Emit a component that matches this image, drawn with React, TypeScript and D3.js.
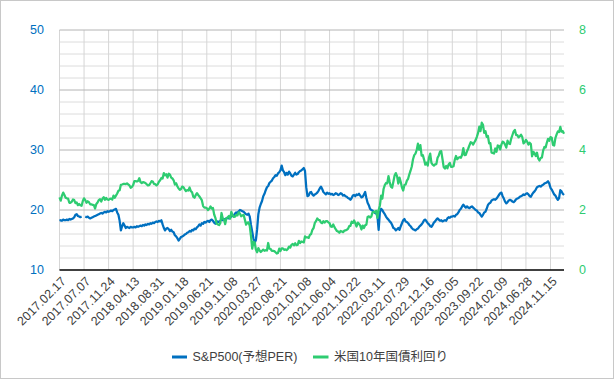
import React from "react";
import * as d3 from "d3";

// Category labels (every 20th weekly point)
const xLabels = [
  "2017.02.17", "2017.07.07", "2017.11.24", "2018.04.13", "2018.08.31", "2019.01.18",
  "2019.06.21", "2019.11.08", "2020.03.27", "2020.08.21", "2021.01.08", "2021.06.04",
  "2021.10.22", "2022.03.11", "2022.07.29", "2022.12.16", "2023.05.05", "2023.09.22",
  "2024.02.09", "2024.06.28", "2024.11.15",
];
const labelStep = 20;

const leftTicks = [10, 20, 30, 40, 50];
const rightTicks = [0, 2, 4, 6, 8];
const leftMinor = [12, 14, 16, 18, 22, 24, 26, 28, 32, 34, 36, 38, 42, 44, 46, 48];

const seriesNames = ["S&P500(予想PER)", "米国10年国債利回り"];

// S&P500 forward PER (weekly; null = gap)
const perValues: (number | null)[] = [
  18.2, 18.3, 18.2, 18.4, 18.3, 18.3, 18.4, 18.3, 18.5, 18.4, 18.5, 18.6, 18.8, 19.2, 19.3, 19.0, 18.9, 18.8, 18.9, null,
  null, 18.9, 18.8, 18.9, 18.7, 18.6, 18.7, 18.8, 18.9, 19.0, 19.1, 19.2, 19.3, 19.4, 19.5, 19.4, 19.6, 19.7, 19.6, 19.8,
  19.7, 19.8, 19.9, 19.8, 20.0, 20.1, 20.2, 19.6, 19.2, 18.2, 16.6, 17.3, 17.8, 17.4, 17.0, 17.2, 17.1, 17.0, 17.2, 17.1,
  17.1, 17.2, 17.1, 17.3, 17.2, 17.3, 17.4, 17.3, 17.5, 17.4, 17.6, 17.5, 17.7, 17.6, 17.8, 17.7, 17.9, 17.8, 18.0, 18.1,
  18.0, 18.2, 18.1, 18.3, 17.6, 17.0, 16.6, 16.9, 17.0, 16.8, 16.5, 16.7, 16.4, 16.3, 15.8, 15.6, 15.3, 14.9, 15.2, 15.5,
  15.6, 15.7, 15.9, 16.0, 16.2, 16.3, 16.5, 16.4, 16.7, 16.6, 16.9, 16.8, 17.1, 17.3, 17.6, 17.4, 17.8, 17.7, 18.0, 17.9,
  18.1, 18.2, 18.0, 18.3, 18.4, 18.2, 17.9, 17.7, 17.9, 18.1, 18.0, 18.2, 18.4, 18.3, 18.5, 18.4, 18.6, 18.7, 18.6, 18.8,
  18.9, 19.1, 19.0, 19.4, 19.6, 19.5, 19.8, 20.0, 19.9, 19.8, 19.7, 19.5, 19.3, 19.2, 19.4, 18.9, 17.5, 16.4, 15.2, 14.6,
  15.0, 16.8, 19.3, 20.4, 21.0, 21.5, 22.3, 22.7, 23.3, 23.8, 24.0, 24.5, 24.7, 24.9, 25.3, 25.5, 25.8, 25.7, 26.1, 26.3,
  26.6, 27.4, 26.6, 26.3, 25.8, 26.2, 25.9, 26.4, 26.1, 25.7, 25.6, 25.9, 26.2, 25.9, 26.0, 26.3, 26.5, 26.6, 26.8, 27.0,
  26.5, 23.8, 22.3, 22.4, 22.9, 23.0, 22.6, 22.4, 22.6, 22.7, 22.9, 23.2, 23.6, 23.9, 23.5, 23.0, 22.8, 22.6, 22.9, 22.7,
  22.8, 22.6, 22.7, 22.5, 22.6, 22.8, 22.7, 22.5, 22.6, 22.8, 22.7, 22.4, 22.5, 22.3, 22.2, 22.0, 21.9, 21.7, 22.0, 22.4,
  22.5, 22.3, 22.6, 22.5, 22.7, 22.4, 22.1, 22.2, 22.6, 23.0, 22.0, 21.2, 20.8, 20.2, 20.0, 19.9, 19.7, 19.5, 19.5, 19.0,
  16.7, 19.6, 20.2, 20.0, 19.6, 19.3, 18.9, 18.6, 18.4, 18.1, 17.9, 17.5, 17.0, 16.9, 16.6, 16.8, 17.0, 16.7, 17.3, 17.8,
  18.3, 18.5, 18.1, 18.0, 17.8, 17.5, 17.3, 17.0, 16.8, 16.7, 16.6, 16.8, 16.9, 17.2, 17.4, 17.6, 17.9, 18.3, 18.4, 18.1,
  17.8, 17.6, 17.3, 17.2, 17.5, 17.9, 18.1, 18.4, 18.6, 18.4, 18.2, 18.3, 18.1, 18.2, 18.3, 18.2, 18.6, 18.8, 18.7, 18.9,
  18.9, 19.0, 18.9, 19.2, 19.3, 19.6, 20.0, 20.2, 20.6, 20.9, 20.6, 20.4, 20.6, 20.4, 20.3, 20.5, 20.6, 20.4, 20.2, 20.0,
  19.9, 19.6, 19.5, 19.2, 18.9, 19.2, 19.6, 19.7, 20.2, 20.8, 21.1, 21.2, 21.6, 21.7, 21.8, 21.7, 21.9, 22.2, 22.5, 22.8,
  22.9, 22.3, 21.9, 21.4, 21.1, 21.3, 21.6, 21.7, 21.6, 21.4, 21.3, 21.5, 21.8, 21.9, 22.0, 22.2, 22.3, 22.4, 22.6, 22.5,
  22.7, 22.8, 22.6, 22.3, 22.2, 22.6, 22.9, 23.1, 23.4, 23.8, 23.9, 24.0, 23.9, 24.1, 24.2, 24.4, 24.5, 24.6, 24.8, 24.4,
  23.7, 23.4, 23.0, 22.6, 22.4, 22.0, 21.7, 22.0, 23.3, 23.1, 22.7, 22.5,
];

// US 10-year Treasury yield (weekly, %)
const yieldValues: number[] = [
  2.42, 2.31, 2.48, 2.58, 2.50, 2.41, 2.39, 2.38, 2.24, 2.24, 2.28, 2.35, 2.33, 2.23, 2.25, 2.16, 2.20, 2.16, 2.14, 2.30,
  2.39, 2.33, 2.24, 2.29, 2.26, 2.19, 2.19, 2.17, 2.16, 2.05, 2.20, 2.25, 2.33, 2.36, 2.28, 2.38, 2.43, 2.34, 2.40, 2.35,
  2.34, 2.37, 2.38, 2.35, 2.48, 2.41, 2.48, 2.55, 2.64, 2.66, 2.84, 2.85, 2.87, 2.87, 2.86, 2.89, 2.85, 2.82, 2.74, 2.77,
  2.83, 2.96, 2.96, 2.95, 2.97, 3.06, 2.93, 2.90, 2.93, 2.92, 2.90, 2.86, 2.82, 2.83, 2.89, 2.96, 2.95, 2.87, 2.86, 2.82,
  2.86, 2.94, 2.99, 3.07, 3.05, 3.23, 3.16, 3.19, 3.08, 3.21, 3.18, 3.08, 3.05, 2.99, 2.85, 2.89, 2.79, 2.72, 2.67, 2.70,
  2.78, 2.76, 2.69, 2.63, 2.66, 2.65, 2.75, 2.63, 2.59, 2.44, 2.41, 2.50, 2.56, 2.50, 2.45, 2.39, 2.32, 2.13, 2.08, 2.08,
  2.06, 2.00, 2.04, 2.12, 2.05, 2.07, 1.85, 1.74, 1.55, 1.52, 1.50, 1.56, 1.90, 1.72, 1.68, 1.53, 1.73, 1.75, 1.80, 1.71,
  1.94, 1.83, 1.77, 1.78, 1.84, 1.82, 1.92, 1.88, 1.79, 1.82, 1.84, 1.68, 1.51, 1.58, 1.59, 1.47, 1.13, 0.71, 0.94, 0.92,
  0.68, 0.59, 0.73, 0.65, 0.60, 0.64, 0.68, 0.64, 0.66, 0.65, 0.90, 0.71, 0.70, 0.64, 0.64, 0.63, 0.59, 0.55, 0.57, 0.71,
  0.63, 0.72, 0.72, 0.67, 0.69, 0.66, 0.70, 0.78, 0.75, 0.84, 0.87, 0.82, 0.89, 0.83, 0.84, 0.97, 0.90, 0.95, 0.94, 0.92,
  1.12, 1.09, 1.09, 1.07, 1.17, 1.20, 1.34, 1.40, 1.57, 1.63, 1.72, 1.67, 1.66, 1.58, 1.56, 1.63, 1.58, 1.63, 1.63, 1.59,
  1.56, 1.45, 1.44, 1.52, 1.43, 1.36, 1.30, 1.28, 1.24, 1.30, 1.28, 1.26, 1.31, 1.32, 1.34, 1.37, 1.46, 1.47, 1.61, 1.57,
  1.65, 1.56, 1.45, 1.58, 1.54, 1.48, 1.35, 1.48, 1.40, 1.49, 1.51, 1.77, 1.79, 1.75, 1.78, 1.92, 1.94, 1.93, 1.97, 1.74,
  2.00, 2.15, 2.48, 2.38, 2.70, 2.83, 2.90, 2.89, 3.13, 2.93, 2.78, 2.74, 2.94, 3.15, 3.23, 3.13, 2.88, 3.08, 2.93, 2.75,
  2.65, 2.83, 2.85, 2.98, 3.04, 3.19, 3.31, 3.45, 3.69, 3.83, 3.88, 4.00, 4.21, 4.01, 4.16, 3.81, 3.83, 3.68, 3.51, 3.58,
  3.48, 3.75, 3.88, 3.57, 3.51, 3.48, 3.52, 3.53, 3.74, 3.82, 3.95, 3.96, 3.70, 3.43, 3.38, 3.47, 3.39, 3.52, 3.57, 3.44,
  3.44, 3.46, 3.67, 3.80, 3.69, 3.74, 3.76, 3.74, 3.84, 4.06, 3.83, 3.84, 3.96, 4.05, 4.16, 4.26, 4.24, 4.18, 4.26, 4.33,
  4.44, 4.57, 4.78, 4.63, 4.91, 4.84, 4.57, 4.63, 4.44, 4.47, 4.22, 4.23, 3.91, 3.90, 3.88, 4.05, 3.94, 4.15, 4.14, 4.02,
  4.18, 4.28, 4.25, 4.18, 4.08, 4.31, 4.22, 4.20, 4.38, 4.50, 4.62, 4.67, 4.50, 4.50, 4.42, 4.46, 4.51, 4.43, 4.22, 4.26,
  4.34, 4.28, 4.18, 4.24, 4.20, 3.79, 3.94, 3.89, 3.80, 3.91, 3.72, 3.65, 3.73, 3.75, 3.98, 4.10, 4.08, 4.24, 4.37, 4.31,
  4.43, 4.41, 4.17, 4.15, 4.40, 4.52, 4.62, 4.60, 4.77, 4.61, 4.63, 4.54,
];

const BLUE = "#0070c0";
const GREEN = "#2ecc71";
const FONT = "'Liberation Sans', Arial, 'Noto Sans CJK JP', sans-serif";

export default function App() {
  const left = 59.5, right = 564, top = 30, bottom = 270;
  const n = Math.max(perValues.length, yieldValues.length);
  const x = d3.scaleLinear().domain([0, n - 1]).range([left, right]);
  const yL = d3.scaleLinear().domain([10, 50]).range([bottom, top]);
  const yR = d3.scaleLinear().domain([0, 8]).range([bottom, top]);

  const perLine = d3
    .line<number | null>()
    .defined((d) => d != null)
    .x((_, i) => x(i))
    .y((d) => yL(d as number));
  const yieldLine = d3
    .line<number>()
    .x((_, i) => x(i))
    .y((d) => yR(d));

  return (
    <svg
      width={615}
      height={380}
      style={{ position: "absolute", left: 0, top: 0, background: "#fff" }}
      fontFamily={FONT}
    >
      <rect x={0.5} y={0.5} width={613} height={378} fill="#fff" stroke="#c8c8c8" />
      {leftMinor.map((v) => (
        <line key={"mn" + v} x1={left} x2={right} y1={yL(v)} y2={yL(v)} stroke="#dcdcdc" strokeWidth={1} />
      ))}
      {xLabels.map((_, k) => (
        <line
          key={"vg" + k}
          x1={x(k * labelStep)}
          x2={x(k * labelStep)}
          y1={top}
          y2={bottom}
          stroke="#d6d6d6"
          strokeWidth={1}
        />
      ))}
      {leftTicks.slice(1).map((v) => (
        <line key={"mj" + v} x1={left} x2={right} y1={yL(v)} y2={yL(v)} stroke="#b4b4b4" strokeWidth={1} />
      ))}
      <line x1={left} x2={right} y1={bottom} y2={bottom} stroke="#000" strokeWidth={1.5} />

      {leftTicks.map((v) => (
        <text key={"lt" + v} x={44} y={yL(v)} dy="0.35em" textAnchor="end" fontSize={12.5} fill={BLUE}>
          {v}
        </text>
      ))}
      {rightTicks.map((v) => (
        <text key={"rt" + v} x={579} y={yR(v)} dy="0.35em" textAnchor="start" fontSize={12.5} fill={GREEN}>
          {v}
        </text>
      ))}
      {xLabels.map((lab, k) => {
        const px = x(k * labelStep) + 4;
        const py = 279;
        return (
          <text
            key={"xl" + k}
            x={px}
            y={py}
            transform={`rotate(-45 ${px} ${py})`}
            textAnchor="end"
            dy="0.35em"
            fontSize={12.5}
            fill="#404040"
          >
            {lab}
          </text>
        );
      })}

      <path d={perLine(perValues) || ""} fill="none" stroke={BLUE} strokeWidth={2.25} strokeLinejoin="round" />
      <path d={yieldLine(yieldValues) || ""} fill="none" stroke={GREEN} strokeWidth={2.25} strokeLinejoin="round" />

      <line x1={172} x2={187} y1={357} y2={357} stroke={BLUE} strokeWidth={3} />
      <text x={192.5} y={357} dy="0.35em" fontSize={12.5} fill="#404040">
        {seriesNames[0]}
      </text>
      <line x1={313} x2={328.5} y1={357} y2={357} stroke={GREEN} strokeWidth={3} />
      <text x={334} y={357} dy="0.35em" fontSize={12.5} fill="#404040">
        {seriesNames[1]}
      </text>
    </svg>
  );
}
